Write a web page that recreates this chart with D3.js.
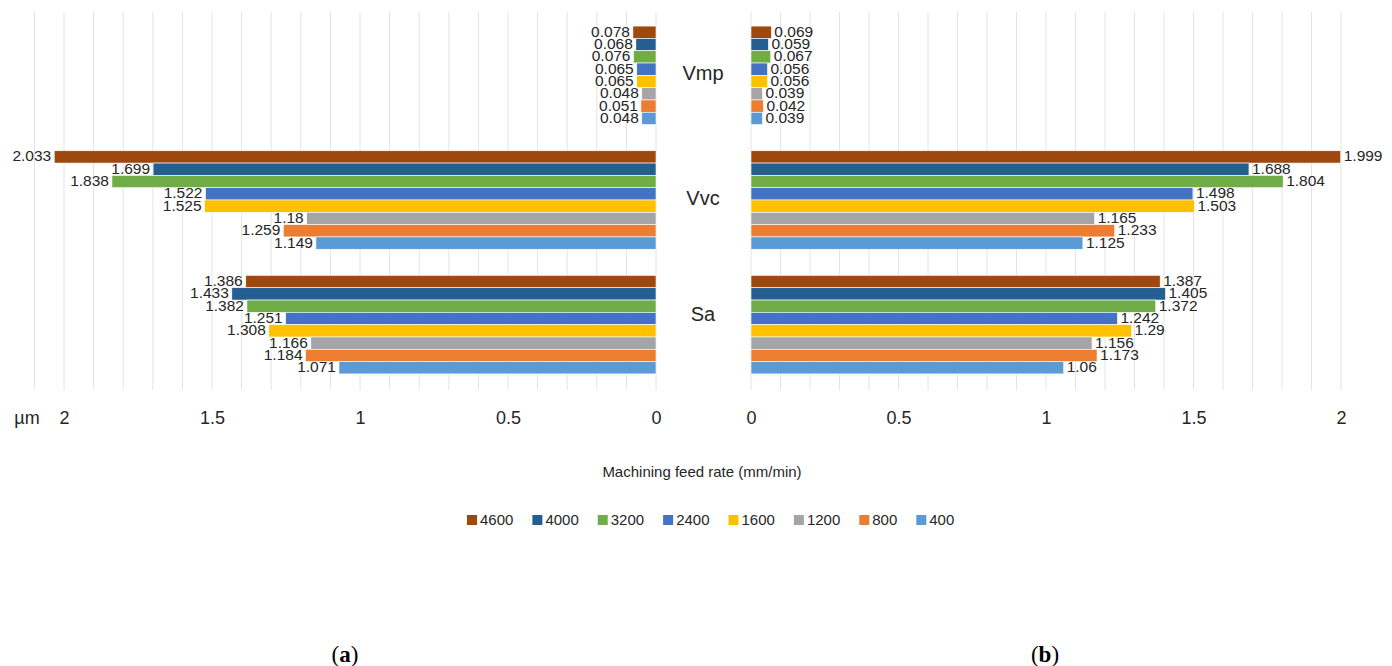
<!DOCTYPE html>
<html>
<head>
<meta charset="utf-8">
<script src="https://cdn.jsdelivr.net/npm/d3@7"></script>
<style>
  html, body { margin: 0; padding: 0; background: #fff; }
  svg { display: block; }
</style>
</head>
<body>
<svg id="chart" width="1392" height="666"></svg>
<script>
// Surface parameters, feed rate series and measured values (µm)
const categories = ["Vmp", "Vvc", "Sa"];
const seriesNames = ["4600", "4000", "3200", "2400", "1600", "1200", "800", "400"];
const seriesColors = ["#9E480E", "#255E91", "#70AD47", "#4472C4", "#FFC000", "#A5A5A5", "#ED7D31", "#5B9BD5"];

// panel (a): values per series, in category order Vmp, Vvc, Sa
const valuesA = [
  [0.078, 2.033, 1.386],
  [0.068, 1.699, 1.433],
  [0.076, 1.838, 1.382],
  [0.065, 1.522, 1.251],
  [0.065, 1.525, 1.308],
  [0.048, 1.18, 1.166],
  [0.051, 1.259, 1.184],
  [0.048, 1.149, 1.071]
];
// panel (b)
const valuesB = [
  [0.069, 1.999, 1.387],
  [0.059, 1.688, 1.405],
  [0.067, 1.804, 1.372],
  [0.056, 1.498, 1.242],
  [0.056, 1.503, 1.29],
  [0.039, 1.165, 1.156],
  [0.042, 1.233, 1.173],
  [0.039, 1.125, 1.06]
];
const tickValues = [0, 0.5, 1, 1.5, 2];
const gridValuesA = d3.range(0, 22).map(i => i / 10);
const gridValuesB = d3.range(0, 21).map(i => i / 10);

const svg = d3.select("#chart");
const labelFont = "'Liberation Sans', Arial, sans-serif";
const textColor = "#262626";

// scales
const xA = d3.scaleLinear().domain([0, 2.1]).range([656, 34.4]);
const xB = d3.scaleLinear().domain([0, 2]).range([751, 1341]);
const y = d3.scaleBand().domain(categories).range([13, 387]).paddingInner(0.21).paddingOuter(0.105);
const ySub = d3.scaleBand().domain(seriesNames).range([0, y.bandwidth()]);
const gridTop = 12, gridBottom = 390;

function drawPanel(x, values, grid, side) {
  const g = svg.append("g");
  // vertical gridlines every 0.1
  g.append("g").selectAll("line").data(grid).join("line")
    .attr("x1", d => x(d)).attr("x2", d => x(d))
    .attr("y1", gridTop).attr("y2", gridBottom)
    .attr("stroke", "#e4e4e4").attr("stroke-width", 1);

  const rows = [];
  seriesNames.forEach((s, si) => {
    categories.forEach((c, ci) => rows.push({ s, si, c, v: values[si][ci] }));
  });

  g.append("g").selectAll("rect").data(rows).join("rect")
    .attr("x", d => Math.min(x(0), x(d.v)))
    .attr("width", d => Math.abs(x(d.v) - x(0)))
    .attr("y", d => y(d.c) + ySub(d.s))
    .attr("height", ySub.bandwidth())
    .attr("fill", d => seriesColors[d.si])
    .attr("stroke", "#ffffff").attr("stroke-width", 0.6);

  g.append("g").selectAll("text").data(rows).join("text")
    .attr("x", d => side === "left" ? x(d.v) - 3 : x(d.v) + 3)
    .attr("y", d => y(d.c) + ySub(d.s) + ySub.bandwidth() / 2 - 1)
    .attr("dy", "0.35em")
    .attr("text-anchor", side === "left" ? "end" : "start")
    .attr("font-family", labelFont).attr("font-size", 15.5)
    .attr("fill", textColor)
    .text(d => String(d.v));

  // value axis
  const axis = d3.axisBottom(x).tickValues(tickValues).tickSize(0).tickPadding(0)
    .tickFormat(d => String(d));
  const ag = g.append("g").attr("transform", "translate(0,411)").call(axis);
  ag.select(".domain").remove();
  ag.selectAll("text").attr("font-family", labelFont).attr("font-size", 18).attr("fill", textColor);
}

drawPanel(xA, valuesA, gridValuesA, "left");
drawPanel(xB, valuesB, gridValuesB, "right");

// unit label
svg.append("text").attr("x", 27).attr("y", 424).attr("text-anchor", "middle")
  .attr("font-family", labelFont).attr("font-size", 18).attr("fill", textColor).text("µm");

// category labels between panels
svg.append("g").selectAll("text").data(categories).join("text")
  .attr("x", 703)
  .attr("y", d => y(d) + y.bandwidth() / 2 - (d === "Sa" ? 11 : 2))
  .attr("dy", "0.35em")
  .attr("text-anchor", "middle")
  .attr("font-family", labelFont).attr("font-size", 20).attr("fill", textColor)
  .text(d => d);

// axis title
svg.append("text").attr("x", 702).attr("y", 477).attr("text-anchor", "middle")
  .attr("font-family", labelFont).attr("font-size", 15).attr("fill", textColor)
  .text("Machining feed rate (mm/min)");

// legend, laid out from the measured width of each entry
const lg = svg.append("g").attr("transform", "translate(0,520)");
let lx = 467;
seriesNames.forEach((name, i) => {
  const item = lg.append("g").attr("transform", `translate(${lx},0)`);
  item.append("rect").attr("x", 0).attr("y", -5).attr("width", 10).attr("height", 10)
    .attr("fill", seriesColors[i]);
  const t = item.append("text").attr("x", 13).attr("y", 0).attr("dy", "0.35em")
    .attr("font-family", labelFont).attr("font-size", 15).attr("fill", textColor)
    .text(name);
  lx += 13 + t.node().getComputedTextLength() + 19;
});

// panel captions
const captions = [{ x: 345, t: "a" }, { x: 1045, t: "b" }];
const cap = svg.append("g").selectAll("text").data(captions).join("text")
  .attr("x", d => d.x).attr("y", 662).attr("text-anchor", "middle")
  .attr("font-family", "'Liberation Serif', 'Times New Roman', serif").attr("font-size", 23).attr("fill", "#000");
cap.append("tspan").text("(");
cap.append("tspan").attr("font-weight", "bold").text(d => d.t);
cap.append("tspan").text(")");
</script>
</body>
</html>
